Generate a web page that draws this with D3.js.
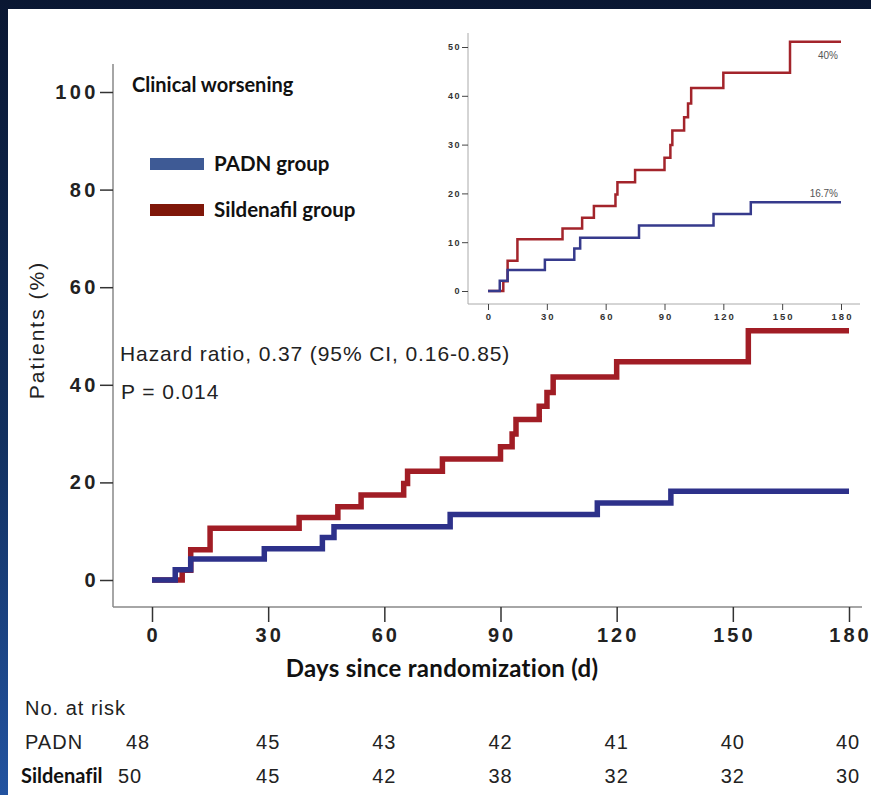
<!DOCTYPE html>
<html>
<head>
<meta charset="utf-8">
<script src="https://cdn.jsdelivr.net/npm/d3@7"></script>
<style>
  html, body { margin: 0; padding: 0; }
  body { width: 871px; height: 795px; overflow: hidden;
         background: linear-gradient(to bottom, #0a1732 0%, #12305f 55%, #2253a0 100%); }
  svg { display: block; }
</style>
</head>
<body>
<div id="chart"></div>
<script>
// ----- data -----
// step points [day, cumulative %]; last point is end of follow-up
const padnSteps = [[0, 0], [6, 2.1], [10, 4.3], [29, 6.4], [44, 8.7], [47, 10.9],
                   [77, 13.4], [115, 15.8], [134, 18.2], [180, 18.2]];
const sildenafilSteps = [[0, 0], [7.8, 2.0], [10, 6.2], [15, 10.6], [38, 12.8], [48, 15.0],
                         [54, 17.4], [65, 19.8], [66, 22.3], [75, 24.8], [90, 27.3], [93, 29.9],
                         [94, 32.9], [100, 35.6], [102, 38.4], [103.6, 41.6], [120, 44.7],
                         [154, 51.1], [180, 51.1]];
const dayTicks = [0, 30, 60, 90, 120, 150, 180];
const pctTicks = [0, 20, 40, 60, 80, 100];
const insetPctTicks = [0, 10, 20, 30, 40, 50];
const padnAtRisk = [48, 45, 43, 42, 41, 40, 40];
const sildenafilAtRisk = [50, 45, 42, 38, 32, 32, 30];
const insetLabels = { padn: "16.7%", sildenafil: "40%" };

const W = 871, H = 795;
const red = "#a11d25", blue = "#2d318a";
const arial = "'Liberation Sans', Arial, sans-serif";
const calibri = "Lato, sans-serif";

const svg = d3.select("#chart").append("svg")
  .attr("width", W).attr("height", H);

// white slide panel
svg.append("rect").attr("x", 8).attr("y", 9).attr("width", W - 8).attr("height", H - 9)
  .attr("fill", "#fff");

// ----- main chart scales -----
const x = d3.scaleLinear().domain([0, 180]).range([152, 849]);
const y = d3.scaleLinear().domain([0, 100]).range([580, 92]);

// axis lines
svg.append("line").attr("x1", 113).attr("x2", 113).attr("y1", 64).attr("y2", 607)
  .attr("stroke", "#888").attr("stroke-width", 1.5);
svg.append("line").attr("x1", 113).attr("x2", 862).attr("y1", 607).attr("y2", 607)
  .attr("stroke", "#888").attr("stroke-width", 1.5);

// y axis ticks
const yAx = svg.append("g").attr("transform", "translate(113,0)")
  .call(d3.axisLeft(y).tickValues(pctTicks).tickSize(13).tickPadding(0));
yAx.select(".domain").remove();
yAx.selectAll(".tick line").attr("stroke", "#333").attr("stroke-width", 1.5);
yAx.selectAll(".tick text")
  .style("font-family", arial)
  .style("font-size", "20px").style("font-weight", "bold")
  .style("letter-spacing", "3.5px").attr("dx", -1).attr("fill", "#222");

// x axis ticks
const xAx = svg.append("g").attr("transform", "translate(0,607)")
  .call(d3.axisBottom(x).tickValues(dayTicks).tickSize(15).tickPadding(6));
xAx.select(".domain").remove();
xAx.selectAll(".tick line").attr("stroke", "#333").attr("stroke-width", 1.5);
xAx.selectAll(".tick text")
  .style("font-family", arial)
  .style("font-size", "20px").style("font-weight", "bold")
  .style("letter-spacing", "3px").attr("dx", 1).attr("fill", "#222");

// step curves
const line = d3.line().x(d => x(d[0])).y(d => y(d[1])).curve(d3.curveStepAfter);
svg.append("path").datum(sildenafilSteps).attr("d", line)
  .attr("fill", "none").attr("stroke", red).attr("stroke-width", 5.5);
svg.append("path").datum(padnSteps).attr("d", line)
  .attr("fill", "none").attr("stroke", blue).attr("stroke-width", 5.5);

// axis titles
svg.append("text")
  .attr("transform", "translate(44,330) rotate(-90)")
  .attr("text-anchor", "middle")
  .style("font-family", arial)
  .style("font-size", "21px").style("letter-spacing", "2px")
  .attr("fill", "#222").text("Patients (%)");

svg.append("text").attr("x", 442).attr("y", 677).attr("text-anchor", "middle")
  .style("font-family", calibri).style("font-size", "24px").style("font-weight", "bold")
  .style("letter-spacing", "0.3px")
  .attr("fill", "#111").text("Days since randomization (d)");

// title and legend
svg.append("text").attr("x", 132).attr("y", 92)
  .style("font-family", calibri).style("font-size", "20px").style("font-weight", "bold")
  .attr("fill", "#111").text("Clinical worsening");

const legendItems = [
  { label: "PADN group", color: "#3e5a95", y: 164 },
  { label: "Sildenafil group", color: "#7f1709", y: 210 }
];
legendItems.forEach(d => {
  svg.append("rect").attr("x", 150).attr("y", d.y - 6).attr("width", 54).attr("height", 12)
    .attr("fill", d.color);
  svg.append("text").attr("x", 214).attr("y", d.y).attr("dy", "0.35em")
    .style("font-family", calibri).style("font-size", "20.5px").style("font-weight", "bold")
    .attr("fill", "#111").text(d.label);
});

// statistics
svg.append("text").attr("x", 120).attr("y", 361)
  .style("font-family", arial).style("font-size", "21px")
  .style("letter-spacing", "0.9px")
  .attr("fill", "#222").text("Hazard ratio, 0.37 (95% CI, 0.16-0.85)");
svg.append("text").attr("x", 121).attr("y", 399)
  .style("font-family", arial).style("font-size", "21px")
  .style("letter-spacing", "0.9px")
  .attr("fill", "#222").text("P = 0.014");

// ----- number at risk -----
const riskStyle = sel => sel.style("font-family", arial).style("font-size", "20px")
  .style("letter-spacing", "1px").attr("fill", "#222");
riskStyle(svg.append("text").attr("x", 25).attr("y", 715).text("No. at risk"));
riskStyle(svg.append("text").attr("x", 25).attr("y", 749).text("PADN"));
svg.append("text").attr("x", 21).attr("y", 783)
  .style("font-family", calibri).style("font-size", "20px").style("font-weight", "bold")
  .style("font-variant-ligatures", "none")
  .attr("fill", "#111").text("Sildenafil");

const riskRows = [
  { values: padnAtRisk, y: 749, firstShift: -14 },
  { values: sildenafilAtRisk, y: 783, firstShift: -22 }
];
riskRows.forEach(r => {
  svg.append("g").selectAll("text")
    .data(r.values)
    .join("text")
      .attr("x", (v, i) => x(dayTicks[i]) + (i === 0 ? r.firstShift : 0) - (i === 6 ? 1 : 0))
      .attr("y", r.y)
      .attr("text-anchor", "middle")
      .call(riskStyle)
      .text(v => v);
});

// ----- inset -----
const xi = d3.scaleLinear().domain([0, 180]).range([488, 841]);
const yi = d3.scaleLinear().domain([0, 50]).range([291, 47]);

svg.append("line").attr("x1", 468).attr("x2", 468).attr("y1", 33).attr("y2", 304)
  .attr("stroke", "#aaa").attr("stroke-width", 1);
svg.append("line").attr("x1", 468).attr("x2", 860).attr("y1", 304).attr("y2", 304)
  .attr("stroke", "#aaa").attr("stroke-width", 1);

const yiAx = svg.append("g").attr("transform", "translate(468,0)")
  .call(d3.axisLeft(yi).tickValues(insetPctTicks).tickSize(6).tickPadding(1));
yiAx.select(".domain").remove();
yiAx.selectAll(".tick line").attr("stroke", "#444");
yiAx.selectAll(".tick text")
  .style("font-family", arial)
  .style("font-size", "9px").style("font-weight", "bold")
  .style("letter-spacing", "1.5px").attr("fill", "#333");

const xiAx = svg.append("g").attr("transform", "translate(0,304)")
  .call(d3.axisBottom(xi).tickValues(dayTicks).tickSize(6).tickPadding(3));
xiAx.select(".domain").remove();
xiAx.selectAll(".tick line").attr("stroke", "#444");
xiAx.selectAll(".tick text")
  .style("font-family", arial)
  .style("font-size", "9.5px").style("font-weight", "bold")
  .style("letter-spacing", "2px").attr("dx", 1).attr("fill", "#333");

const lineI = d3.line().x(d => xi(d[0])).y(d => yi(d[1])).curve(d3.curveStepAfter);
svg.append("path").datum(sildenafilSteps).attr("d", lineI)
  .attr("fill", "none").attr("stroke", "#a3242b").attr("stroke-width", 2.5);
svg.append("path").datum(padnSteps).attr("d", lineI)
  .attr("fill", "none").attr("stroke", "#363a8c").attr("stroke-width", 2.5);

svg.append("text").attr("x", 838).attr("y", 59).attr("text-anchor", "end")
  .style("font-family", arial).style("font-size", "10px")
  .attr("fill", "#555").text(insetLabels.sildenafil);
svg.append("text").attr("x", 838).attr("y", 197).attr("text-anchor", "end")
  .style("font-family", arial).style("font-size", "10px")
  .attr("fill", "#555").text(insetLabels.padn);
</script>
</body>
</html>
